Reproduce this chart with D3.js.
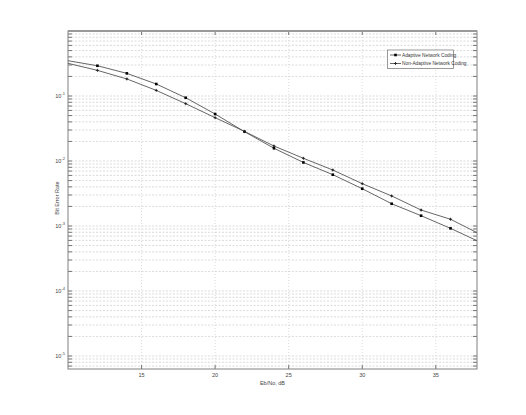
<!DOCTYPE html>
<html>
<head>
<meta charset="utf-8">
<script src="https://cdn.jsdelivr.net/npm/d3@7"></script>
<style>
  body { margin: 0; background: #fff; }
  text { font-family: "Liberation Sans", Arial, sans-serif; }
</style>
</head>
<body>
<svg id="chart" width="526" height="415"></svg>
<script>
// values
var snr = [10, 12, 14, 16, 18, 20, 22, 24, 26, 28, 30, 32, 34, 36, 38];
var adaptive = [0.349, 0.292, 0.223, 0.153, 0.094, 0.0528, 0.0282, 0.0157, 0.0095, 0.00616, 0.00375, 0.0022, 0.00144, 0.00092, 0.000566];
var nonAdaptive = [0.318, 0.248, 0.183, 0.122, 0.0762, 0.0464, 0.0285, 0.017, 0.011, 0.00727, 0.00448, 0.0029, 0.00176, 0.00127, 0.00075];
var seriesNames = ["Adaptive Network Coding", "Non-Adaptive Network Coding"];
var xTicks = [15, 20, 25, 30, 35];
var yDecades = [-1, -2, -3, -4, -5];

var svg = d3.select("#chart"),
    margin = {top: 31, right: 49, bottom: 46, left: 68},
    width = +svg.attr("width") - margin.left - margin.right,
    height = +svg.attr("height") - margin.top - margin.bottom;

var x = d3.scaleLinear().domain([10, 37.8]).range([0, width]);
var y = d3.scaleLog().domain([Math.pow(10, -5.2), 1]).range([height, 0]);

var g = svg.append("g").attr("transform", "translate(" + margin.left + "," + margin.top + ")");

svg.append("defs").append("clipPath").attr("id", "plotclip")
  .append("rect").attr("width", width).attr("height", height);

// grid
var yMinor = y.ticks().filter(function(d) { return d < 1 && d > y.domain()[0]; });
g.append("g").attr("class", "grid")
  .selectAll("line").data(yMinor).enter().append("line")
    .attr("x1", 0).attr("x2", width)
    .attr("y1", function(d) { return y(d); }).attr("y2", function(d) { return y(d); })
    .attr("stroke", "#d2d2d2").attr("stroke-width", 0.8)
    .attr("stroke-dasharray", "2,1.5");
g.append("g").attr("class", "grid")
  .selectAll("line").data(xTicks).enter().append("line")
    .attr("x1", function(d) { return x(d); }).attr("x2", function(d) { return x(d); })
    .attr("y1", 0).attr("y2", height)
    .attr("stroke", "#d2d2d2").attr("stroke-width", 0.8)
    .attr("stroke-dasharray", "1,2");

// ticks, inward on all four sides
var tickLen = 4;
yMinor.forEach(function(d) {
  g.append("line").attr("x1", 0).attr("x2", tickLen).attr("y1", y(d)).attr("y2", y(d)).attr("stroke", "#777");
  g.append("line").attr("x1", width - tickLen).attr("x2", width).attr("y1", y(d)).attr("y2", y(d)).attr("stroke", "#777");
});
xTicks.forEach(function(d) {
  g.append("line").attr("x1", x(d)).attr("x2", x(d)).attr("y1", height).attr("y2", height - tickLen).attr("stroke", "#777");
  g.append("line").attr("x1", x(d)).attr("x2", x(d)).attr("y1", 0).attr("y2", tickLen).attr("stroke", "#777");
});

// frame
g.append("rect").attr("width", width).attr("height", height)
  .attr("fill", "none").attr("stroke", "#808080").attr("stroke-width", 1);
g.append("line").attr("x1", 0).attr("x2", width).attr("y1", 0).attr("y2", 0)
  .attr("stroke", "#999").attr("stroke-width", 2);

// tick labels
g.selectAll(".xlab").data(xTicks).enter().append("text")
  .attr("class", "xlab")
  .attr("x", function(d) { return x(d); }).attr("y", height + 8)
  .attr("text-anchor", "middle").attr("font-size", 5.5).attr("fill", "#444")
  .text(function(d) { return d; });

yDecades.forEach(function(p) {
  var t = g.append("text")
    .attr("x", -3).attr("y", y(Math.pow(10, p)) + 2)
    .attr("text-anchor", "end").attr("font-size", 5.5).attr("fill", "#444");
  t.append("tspan").text("10");
  t.append("tspan").attr("dy", -3).attr("font-size", 4).text(p);
});

// axis labels
g.append("text").attr("x", width / 2).attr("y", height + 16)
  .attr("text-anchor", "middle").attr("font-size", 5.5).attr("fill", "#444")
  .text("Eb/No, dB");
g.append("text").attr("transform", "translate(-9," + (height / 2 - 2) + ") rotate(-90)")
  .attr("text-anchor", "middle").attr("font-size", 5.5).attr("fill", "#444")
  .text("Bit Error Rate");

// curves
var series = [
  {name: seriesNames[0], values: adaptive, marker: "square"},
  {name: seriesNames[1], values: nonAdaptive, marker: "plus"}
];
var line = d3.line()
  .x(function(d) { return x(d[0]); })
  .y(function(d) { return y(d[1]); });

function drawMarker(sel, kind, cx, cy) {
  if (kind === "square") {
    sel.append("rect").attr("x", cx - 1.3).attr("y", cy - 1.3)
      .attr("width", 2.6).attr("height", 2.6).attr("fill", "#000");
  } else {
    sel.append("path")
      .attr("d", "M" + (cx - 1.5) + "," + cy + "h3M" + cx + "," + (cy - 1.5) + "v3")
      .attr("stroke", "#111").attr("stroke-width", 0.8);
    sel.append("circle").attr("cx", cx).attr("cy", cy).attr("r", 0.7).attr("fill", "#222");
  }
}

var plot = g.append("g").attr("clip-path", "url(#plotclip)");
series.forEach(function(s) {
  var pts = snr.map(function(v, i) { return [v, s.values[i]]; });
  plot.append("path").datum(pts).attr("d", line)
    .attr("fill", "none").attr("stroke", "#555").attr("stroke-width", 0.9);
  var mg = plot.append("g");
  pts.filter(function(d) { return d[0] > x.domain()[0] && d[0] < x.domain()[1]; })
    .forEach(function(d) { drawMarker(mg, s.marker, x(d[0]), y(d[1])); });
});

// legend
var lg = g.append("g").attr("transform", "translate(" + (387.5 - margin.left) + "," + (50 - margin.top) + ")");
lg.append("rect").attr("width", 66).attr("height", 18.5)
  .attr("fill", "#fff").attr("stroke", "#808080").attr("stroke-width", 0.8);
series.forEach(function(s, i) {
  var ly = 5 + i * 8.5;
  lg.append("line").attr("x1", 2.5).attr("x2", 13.5).attr("y1", ly).attr("y2", ly)
    .attr("stroke", "#555").attr("stroke-width", 0.9);
  drawMarker(lg, s.marker, 8, ly);
  lg.append("text").attr("x", 14.5).attr("y", ly + 1.8)
    .attr("font-size", 4.8).attr("fill", "#333").text(s.name);
});
</script>
</body>
</html>
